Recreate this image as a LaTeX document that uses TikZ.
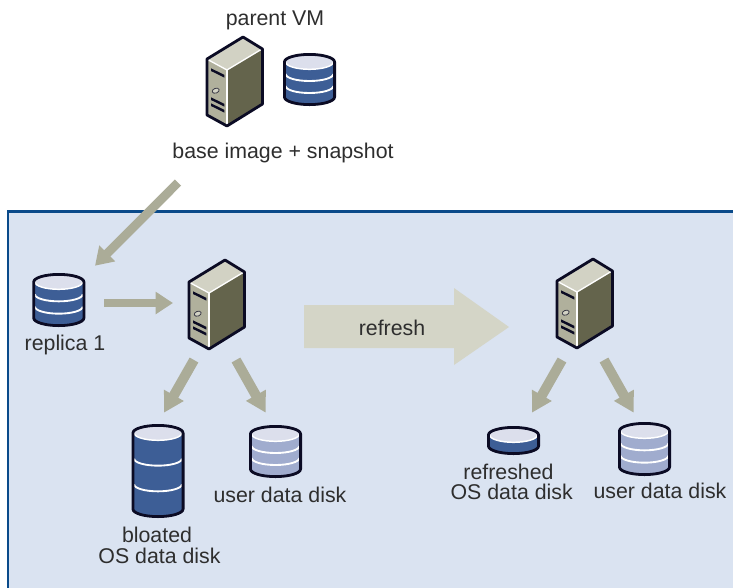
\documentclass[tikz,border=0pt]{standalone}
\usepackage{fontspec}
\setmainfont{Liberation Sans}
\usetikzlibrary{arrows.meta}
\definecolor{panelfill}{HTML}{DAE3F1}
\definecolor{panelline}{HTML}{0A4A8A}
\definecolor{diskblue}{HTML}{3D5E96}
\definecolor{diskpale}{HTML}{A0ACCE}
\definecolor{disktop}{HTML}{DCDFEC}
\definecolor{outlinedark}{HTML}{0B0B24}
\definecolor{srvtop}{HTML}{D2D2C4}
\definecolor{srvfront}{HTML}{B0B09C}
\definecolor{srvside}{HTML}{64644C}
\definecolor{arrowgrey}{HTML}{ABAC98}
\definecolor{arrowlight}{HTML}{D4D5C7}
\definecolor{textgrey}{HTML}{2E2E2E}
\tikzset{
  lbl/.style={anchor=base,inner sep=0pt,text=textgrey,font=\fontsize{16}{19}\selectfont},
  flow/.style={draw=arrowgrey,line width=6.6pt,-{Triangle[length=13pt,width=16pt]}},
  flowwide/.style={draw=arrowgrey,line width=7.5pt,-{Triangle[length=15pt,width=16pt]}},
  outl/.style={draw=outlinedark,line width=2.1pt,line join=round},
}
% server: #1 name, #2 x, #3 y of the upper left corner
\newcommand{\serverbox}[3]{%
  \begin{scope}[shift={(#2,#3)}]
    \coordinate (#1) at (27,22);
    \fill[srvfront] (0,0) -- (20,11) -- (20,67) -- (0,56) -- cycle;
    \fill[srvtop] (0,0) -- (36,-22) -- (55.5,-10) -- (20,11) -- cycle;
    \fill[srvside] (20,11) -- (55.5,-10) -- (55.5,45) -- (20,67) -- cycle;
    \draw[white,line width=1pt] (0.8,0.6) -- (20,11) -- (55,-10);
    \draw[white,line width=1pt] (20,11) -- (20,66);
    \fill[outlinedark] (4,9.3) -- (17.3,15.8) -- (17.3,18.6) -- (4,12) -- cycle;
    \fill[outlinedark] (4,38.3) -- (17.3,44.8) -- (17.3,47.6) -- (4,41) -- cycle;
    \fill[outlinedark] (4,44.3) -- (17.3,50.8) -- (17.3,53.6) -- (4,47) -- cycle;
    \draw[outlinedark!70!srvfront,fill=srvtop,line width=.6pt,rotate around={20:(8.7,31.7)}] (8.7,31.7) ellipse [x radius=3.6,y radius=2.4];
    \draw[outl] (0,0) -- (36,-22) -- (55.5,-10) -- (55.5,45) -- (20,67) -- (0,56) -- cycle;
  \end{scope}}
% disk: #1 name, #2 left, #3 top, #4 height, #5 colour, #6 band list
\newcommand{\diskshape}[6]{%
  \begin{scope}[shift={(#2,#3)}]
    \coordinate (#1) at (26.5,{#4/2});
    \path[fill=#5] (1.4,9) -- (1.4,{#4-9}) arc[start angle=180,end angle=0,x radius=25.1,y radius=7.6]
       -- (51.6,9) arc[start angle=0,end angle=-180,x radius=25.1,y radius=7.6] -- cycle;
    \foreach \k in {#6}{
      \draw[white,line width=1.4pt] (2.6,{9+\k*(#4-17)/3}) arc[start angle=180,end angle=0,x radius=23.9,y radius=7];
    }
    \path[fill=disktop] (26.5,9) ellipse [x radius=24,y radius=7.3];
    \draw[white,line width=1.1pt] (2.6,9) arc[start angle=180,end angle=0,x radius=23.9,y radius=7.3];
    \path[outl] (1.4,9) -- (1.4,{#4-9}) arc[start angle=180,end angle=0,x radius=25.1,y radius=7.6]
       -- (51.6,9) arc[start angle=0,end angle=-180,x radius=25.1,y radius=7.6] -- cycle;
  \end{scope}}
\begin{document}
\begin{tikzpicture}[x=0.75pt,y=-0.75pt]
\useasboundingbox (0,0) rectangle (733,587);
\clip (0,0) rectangle (733,587);
\fill[white] (0,0) rectangle (733,587);
\path[fill=panelfill,draw=panelline,line width=2.2pt] (8,640) -- (8,211.5) -- (760,211.5) -- (760,640) -- cycle;

\serverbox{srvparent}{207}{59}
\diskshape{dparent}{283}{53}{53}{diskblue}{1,2}
\diskshape{dreplica}{32.3}{273}{54}{diskblue}{1,2}
\serverbox{srvleft}{189}{282}
\serverbox{srvright}{557}{281}
\diskshape{dbloated}{131.5}{424}{94}{diskblue}{1,2}
\diskshape{duserl}{249}{425}{53}{diskpale}{1,2}
\diskshape{drefreshed}{487}{426}{29}{diskblue}{}
\diskshape{duserr}{618}{422}{54}{diskpale}{1,2}

\node[lbl] (tparent) at (275,25.5) {parent VM};
\node[lbl] (tbase) at (283,158) {base image + snapshot};
\node[lbl] (trep) at (65,350) {replica 1};
\node[lbl] (tbl) at (157,542.7) {bloated};
\node[lbl] (tos) at (159.5,563.2) {OS data disk};
\node[lbl] (tul) at (280,502.4) {user data disk};
\node[lbl] (trf) at (508.5,479.2) {refreshed};
\node[lbl] (tos2) at (511.7,499.7) {OS data disk};
\node[lbl] (tur) at (660,498.8) {user data disk};

\coordinate (a1s) at (178,182.5);
\coordinate (a1e) at (95,265.7);
\coordinate (a2s) at (104,303);
\coordinate (a2e) at (173,303);
\coordinate (a3s) at (194,360);
\coordinate (a3e) at (164,412.7);
\coordinate (a4s) at (236,360);
\coordinate (a4e) at (265.7,412.7);
\coordinate (a5s) at (562,360);
\coordinate (a5e) at (532,412.7);
\coordinate (a6s) at (604,360);
\coordinate (a6e) at (633.7,412.7);
\draw[flow] (a1s) -- (a1e);
\draw[flow] (a2s) -- (a2e);
\draw[flowwide] (a3s) -- (a3e);
\draw[flowwide] (a4s) -- (a4e);
\draw[flowwide] (a5s) -- (a5e);
\draw[flowwide] (a6s) -- (a6e);

\fill[arrowlight] (304,305) -- (454,305) -- (454,288) -- (509,327) -- (454,365) -- (454,348) -- (304,348) -- cycle;
\node[lbl] (trefresh) at (392,335) {refresh};
\end{tikzpicture}
\end{document}
